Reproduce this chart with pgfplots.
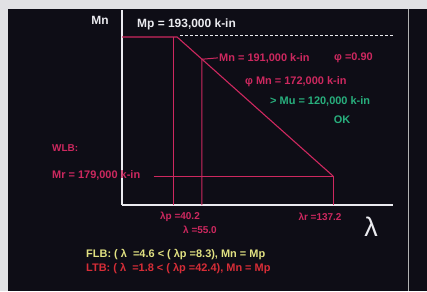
\documentclass[border=0pt]{standalone}
\usepackage{pgfplots}
\pgfplotsset{compat=1.18}
\usepackage{fontspec}
\setmainfont{Liberation Sans}
\definecolor{bg}{RGB}{14,13,22}
\definecolor{frame}{RGB}{225,225,228}
\definecolor{pk}{RGB}{205,40,95}
\definecolor{gr}{RGB}{40,175,125}
\definecolor{yl}{RGB}{225,225,130}
\definecolor{rd}{RGB}{215,45,55}
\definecolor{wh}{RGB}{235,235,240}
\begin{document}
\begin{tikzpicture}
\fill[frame] (0,0) rectangle (427bp,-291bp);
\fill[bg] (8bp,-9bp) rectangle (427bp,-291bp);
\draw[gray!60, line width=1bp] (408bp,-9bp) -- (408bp,-291bp);
\begin{axis}[at={(122bp,-205bp)}, anchor=south west, scale only axis,
  width=271bp, height=195bp, xmin=0, xmax=176.2, ymin=176.08, ymax=195.72,
  axis lines*=left, axis line style={wh, line width=1.3bp},
  xtick=\empty, ytick=\empty, clip=false]
% Mn curve: plateau then linear to Mr
\addplot[pk, line width=1.1bp] coordinates {(0,193) (35.8,193) (137.2,179)};
% Mp dashed extension
\addplot[wh, line width=1bp, dash pattern=on 3bp off 2bp] coordinates {(38,193.15) (177.5,193.15)};
% Mr line
\addplot[pk, line width=1bp] coordinates {(20.5,179) (137.2,179)};
% verticals
\addplot[pk, line width=1bp] coordinates {(33.8,176.08) (33.8,193)};
\addplot[pk, line width=1bp] coordinates {(52,176.08) (52,190.76) (62.4,190.9)};
\addplot[pk, line width=1bp] coordinates {(137.2,176.08) (137.2,179)};
\end{axis}
\tikzset{every node/.style={inner sep=0pt, font=\fontsize{11}{12}\selectfont\bfseries}}
\node[wh, font=\fontsize{12}{13}\selectfont\bfseries] at (100bp,-20bp) {Mn};
\node[wh, anchor=west, font=\fontsize{12}{13}\selectfont\bfseries] at (137bp,-24bp) {Mp = 193,000 k-in};
\node[pk, anchor=west] at (219bp,-58bp) {Mn = 191,000 k-in};
\node[pk, anchor=west] at (334bp,-58bp) {φ =0.90};
\node[pk, anchor=west] at (245bp,-82bp) {φ Mn = 172,000 k-in};
\node[gr, anchor=west] at (270bp,-101bp) {> Mu = 120,000 k-in};
\node[gr] at (342bp,-120bp) {OK};
\node[pk, anchor=west, font=\fontsize{10}{11}\selectfont\bfseries] at (52bp,-148bp) {WLB:};
\node[pk, anchor=west] at (52bp,-175bp) {Mr = 179,000 k-in};
\node[pk, font=\fontsize{10}{11}\selectfont\bfseries] at (180bp,-217bp) {λp =40.2};
\node[pk, font=\fontsize{10}{11}\selectfont\bfseries] at (200bp,-230bp) {λ =55.0};
\node[pk, font=\fontsize{10}{11}\selectfont\bfseries] at (320bp,-217bp) {λr =137.2};
\node[wh, font=\fontsize{27}{29}\selectfont] at (371bp,-227bp) {λ};
\node[yl, anchor=west, font=\fontsize{11}{12}\selectfont\bfseries] at (86bp,-255bp) {FLB: ( λ \ =4.6 < ( λp =8.3), Mn = Mp};
\node[rd, anchor=west, font=\fontsize{11}{12}\selectfont\bfseries] at (86bp,-269bp) {LTB: ( λ \ =1.8 < ( λp =42.4), Mn = Mp};
\end{tikzpicture}
\end{document}
